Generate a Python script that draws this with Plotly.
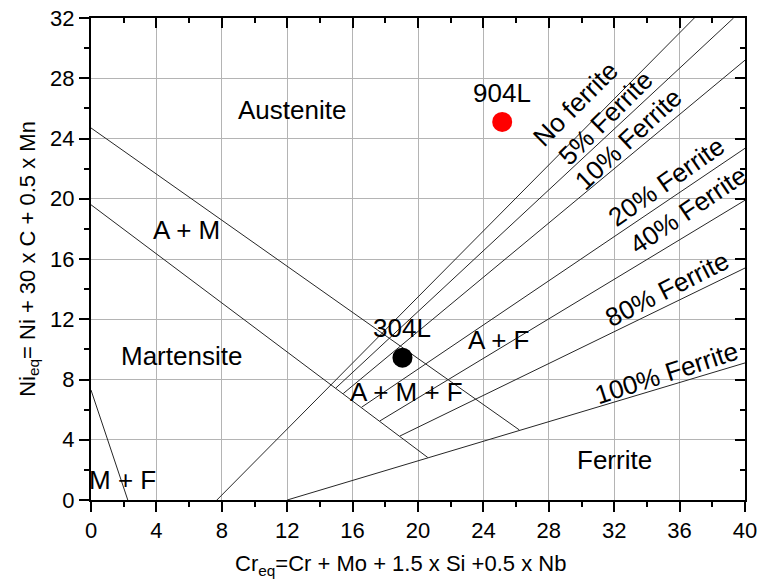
import plotly.graph_objects as go

# Phase-boundary lines of the Schaeffler diagram: (Cr_eq, Ni_eq) end points
boundary_names = ["A / A+M", "A+M / M", "No ferrite", "5% Ferrite", "10% Ferrite",
                  "20% Ferrite", "40% Ferrite", "80% Ferrite", "100% Ferrite", "M / M+F"]
boundary_x = [
    [0.0, 26.2],
    [0.0, 20.6],
    [7.7, 36.9],
    [14.98, 39.3],
    [15.43, 40.0],
    [16.55, 40.0],
    [17.67, 40.0],
    [18.9, 40.0],
    [12.0, 40.0],
    [0.0, 2.25],
]
boundary_y = [
    [24.7, 4.65],
    [19.6, 2.82],
    [0.0, 32.0],
    [7.44, 32.0],
    [7.07, 29.2],
    [6.16, 23.35],
    [5.25, 19.9],
    [4.25, 15.4],
    [0.0, 9.1],
    [7.3, 0.0],
]

# Alloy compositions
alloy_names = ["904L", "304L"]
alloy_cr = [25.15, 19.05]
alloy_ni = [25.1, 9.45]
alloy_colors = ["#ff0000", "#000000"]

# Region labels
region_text = ["Austenite", "A + M", "Martensite", "M + F", "A + M + F", "A + F", "Ferrite"]
region_x = [12.3, 5.85, 5.55, 1.95, 19.3, 24.9, 32.0]
region_y = [25.9, 17.9, 9.55, 1.3, 7.15, 10.6, 2.65]

# Ferrite-content labels written along their lines
ferrite_text = ["No ferrite", "5% Ferrite", "10% Ferrite", "20% Ferrite",
                "40% Ferrite", "80% Ferrite", "100% Ferrite"]
ferrite_x = [29.62, 31.48, 32.86, 35.15, 36.53, 35.25, 35.2]
ferrite_y = [26.3, 25.34, 23.97, 21.14, 19.26, 13.99, 8.45]
ferrite_angle = [-45, -45, -43, -35, -34, -27, -18]

FONT = "Arial, Liberation Sans, sans-serif"
LABEL_SIZE = 26

fig = go.Figure()

for name, xs, ys in zip(boundary_names, boundary_x, boundary_y):
    fig.add_trace(go.Scatter(x=xs, y=ys, mode="lines", name=name,
                             line=dict(color="#262626", width=1),
                             showlegend=False, hoverinfo="skip"))

for name, cx, ny, col in zip(alloy_names, alloy_cr, alloy_ni, alloy_colors):
    fig.add_trace(go.Scatter(x=[cx], y=[ny], mode="markers", name=name,
                             marker=dict(color=col, size=20, line=dict(width=0)),
                             showlegend=False))

# invisible trace on the mirrored axes so they get drawn
fig.add_trace(go.Scatter(x=[0], y=[0], xaxis="x2", yaxis="y2", mode="markers",
                         marker=dict(opacity=0), showlegend=False, hoverinfo="skip"))

annotations = []
for t, x, y in zip(region_text, region_x, region_y):
    annotations.append(dict(x=x, y=y, text=t, showarrow=False,
                            font=dict(family=FONT, size=LABEL_SIZE, color="#000")))
for t, x, y, a in zip(ferrite_text, ferrite_x, ferrite_y, ferrite_angle):
    annotations.append(dict(x=x, y=y, text=t, showarrow=False, textangle=a,
                            font=dict(family=FONT, size=LABEL_SIZE, color="#000")))
for name, cx, ny in zip(alloy_names, alloy_cr, alloy_ni):
    annotations.append(dict(x=cx, y=ny + 1.95, text=name, showarrow=False,
                            font=dict(family=FONT, size=LABEL_SIZE, color="#000")))

# axis titles
annotations.append(dict(xref="paper", yref="paper", x=0.474, y=-0.135,
                        xanchor="center", yanchor="middle", showarrow=False,
                        text="Cr<sub>eq</sub>=Cr + Mo + 1.5 x Si +0.5 x Nb",
                        font=dict(family=FONT, size=22, color="#000")))
annotations.append(dict(xref="paper", yref="paper", x=-0.095, y=0.5,
                        xanchor="center", yanchor="middle", showarrow=False,
                        textangle=-90,
                        text="Ni<sub>eq</sub>= Ni + 30 x C + 0.5 x Mn",
                        font=dict(family=FONT, size=22, color="#000")))

tick_style = dict(ticklen=10, tickwidth=2, tickcolor="#000")
minor_out = dict(dtick=2, ticks="outside", ticklen=5, tickwidth=2,
                 tickcolor="#000", showgrid=False)
minor_in = dict(dtick=2, ticks="inside", ticklen=5, tickwidth=2,
                tickcolor="#000", showgrid=False)

fig.update_layout(
    width=758, height=582,
    margin=dict(l=91, r=13, t=18, b=82),
    paper_bgcolor="white", plot_bgcolor="white",
    font=dict(family=FONT, size=22, color="#000"),
    annotations=annotations,
    xaxis=dict(range=[0, 40], dtick=4, tick0=0, showline=True, linecolor="#000",
               linewidth=2, zeroline=False, showgrid=True, gridcolor="#b4b4b4",
               gridwidth=1, ticks="outside", minor=minor_out, automargin=False,
               tickfont=dict(family=FONT, size=22), **tick_style),
    yaxis=dict(range=[0, 32], dtick=4, tick0=0, showline=True, linecolor="#000",
               linewidth=2, zeroline=False, showgrid=True, gridcolor="#b4b4b4",
               gridwidth=1, ticks="outside", minor=minor_out, automargin=False,
               tickfont=dict(family=FONT, size=22), **tick_style),
    xaxis2=dict(range=[0, 40], dtick=4, tick0=0, overlaying="x", side="top",
                anchor="y", showline=True, linecolor="#000", linewidth=2,
                zeroline=False, showgrid=False, showticklabels=False,
                ticks="inside", minor=minor_in, automargin=False, **tick_style),
    yaxis2=dict(range=[0, 32], dtick=4, tick0=0, overlaying="y", side="right",
                anchor="x", showline=True, linecolor="#000", linewidth=2,
                zeroline=False, showgrid=False, showticklabels=False,
                ticks="inside", minor=minor_in, automargin=False, **tick_style),
)

fig.write_html("out.html")
